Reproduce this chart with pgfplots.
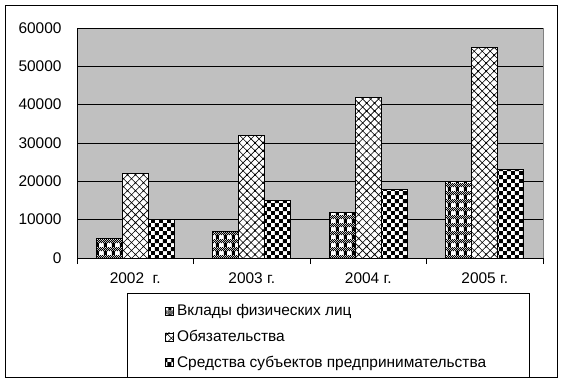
\documentclass[border=0pt]{standalone}
\usepackage{pgfplots}
\pgfplotsset{compat=1.18}
\usepackage{fontspec}
\setmainfont{Liberation Sans}
\usetikzlibrary{patterns}
\definecolor{plotbg}{RGB}{192,192,192}
\definecolor{plotborder}{RGB}{128,128,128}
\pgfdeclarepatternformonly{mycheck}{\pgfpointorigin}{\pgfpoint{8pt}{8pt}}{\pgfpoint{8pt}{8pt}}{%
  \pgfpathrectangle{\pgfpointorigin}{\pgfpoint{4pt}{4pt}}%
  \pgfpathrectangle{\pgfpoint{4pt}{4pt}}{\pgfpoint{4pt}{4pt}}%
  \pgfusepath{fill}}
\pgfdeclarepatternformonly{mycross}{\pgfpoint{-1pt}{-1pt}}{\pgfpoint{9pt}{9pt}}{\pgfpoint{8pt}{8pt}}{%
  \pgfsetlinewidth{0.6pt}%
  \pgfpathmoveto{\pgfpoint{-1pt}{-1pt}}\pgfpathlineto{\pgfpoint{9pt}{9pt}}%
  \pgfpathmoveto{\pgfpoint{-1pt}{9pt}}\pgfpathlineto{\pgfpoint{9pt}{-1pt}}%
  \pgfusepath{stroke}}
\pgfdeclarepatternformonly{mymix}{\pgfpointorigin}{\pgfpoint{8pt}{8pt}}{\pgfpoint{8pt}{8pt}}{%
  \pgfpathrectangle{\pgfpoint{1pt}{0pt}}{\pgfpoint{3pt}{4pt}}%
  \foreach \j in {4,6} {\foreach \i in {0,2,4,6} {%
    \pgfpathrectangle{\pgfpoint{\i pt}{\j pt}}{\pgfpoint{1pt}{1pt}}%
    \pgfpathrectangle{\pgfpoint{\i pt+1pt}{\j pt+1pt}}{\pgfpoint{1pt}{1pt}}}}%
  \pgfusepath{fill}}
\begin{document}
\begin{tikzpicture}[x=1bp,y=1bp]
\useasboundingbox (0,0) rectangle (563,-382);
\fill[white] (0,0) rectangle (563,-382);
\draw[black, line width=0.8bp] (5,-5) rectangle (557,-377);
\draw[black, line width=0.8bp, fill=white] (127,-293) rectangle (529,-377);
\begin{axis}[
  at={(77bp,-258bp)}, anchor=south west,
  scale only axis, width=466bp, height=230bp,
  ymin=0, ymax=60000, ytick={0,10000,...,60000},
  xmin=-0.5, xmax=3.5,
  xtick={0,1,2,3},
  xticklabels={2002\ \ г.,2003 г.,2004 г.,2005 г.},
  extra x ticks={-0.5,0.5,1.5,2.5,3.5},
  extra x tick labels={},
  extra x tick style={major tick length=6bp, tick style={black, line width=0.8bp}},
  major tick length=0pt,
  ytick style={black, line width=0.8bp},
  yticklabel style={xshift=-12bp},
  axis x line*=bottom, axis y line*=left,
  axis line style={black, line width=0.8bp, -},
  tick align=outside,
  ymajorgrids, grid style={black, line width=0.8bp},
  axis background/.style={fill=plotbg, draw=plotborder, line width=0.8bp},
  ybar=0pt, bar width=26bp,
  scaled y ticks=false,
  /pgf/number format/.cd, 1000 sep={}, assume math mode=true,
  /pgfplots/.cd,
  tick label style={font=\fontsize{15.5}{17}\selectfont},
  xticklabel style={yshift=-11bp},
  legend style={at={(axis description cs:0.183,-0.185)}, anchor=north west, draw=none, fill=none,
    font=\fontsize{15.5}{17}\selectfont, row sep=9bp, legend cell align=left,
    nodes={inner xsep=3bp}},
  legend image code/.code={\draw[#1, line width=0.6bp] (0bp,-4bp) rectangle (8bp,4bp);},
]
\addplot[draw=black, line width=0.8bp, fill=white, postaction={pattern=mymix}] coordinates {(0,5000) (1,7000) (2,12000) (3,20000)};
\addplot[draw=black, line width=0.8bp, fill=white, postaction={pattern=mycross}] coordinates {(0,22000) (1,32000) (2,42000) (3,55000)};
\addplot[draw=black, line width=0.8bp, fill=white, postaction={pattern=mycheck}] coordinates {(0,10000) (1,15000) (2,18000) (3,23000)};
\legend{Вклады физических лиц, Обязательства, Средства субъектов предпринимательства}
\end{axis}
\end{tikzpicture}
\end{document}
